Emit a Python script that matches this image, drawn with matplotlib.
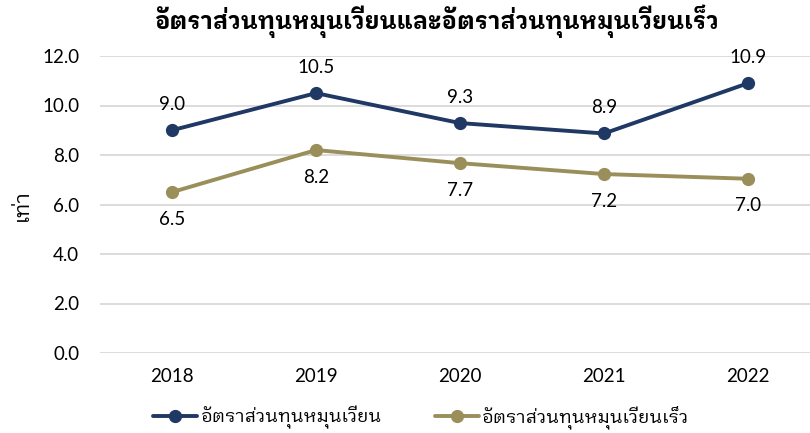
import matplotlib
matplotlib.use('Agg')
import matplotlib.pyplot as plt

years = ['2018', '2019', '2020', '2021', '2022']
working_capital_turnover = [9.0, 10.5, 9.29, 8.87, 10.9]
quick_capital_turnover = [6.5, 8.2, 7.67, 7.23, 7.04]
series_names = ['อัตราส่วนทุนหมุนเวียน', 'อัตราส่วนทุนหมุนเวียนเร็ว']
title = 'อัตราส่วนทุนหมุนเวียนและอัตราส่วนทุนหมุนเวียนเร็ว'
ylabel = 'เท่า'
yticks = [0, 2, 4, 6, 8, 10, 12]

THAI = ['IBM Plex Sans Thai Looped', 'Noto Sans Thai Looped', 'DejaVu Sans']
plt.rcParams['font.family'] = ['Lato', 'IBM Plex Sans Thai Looped', 'DejaVu Sans']

navy = '#1F3864'
gold = '#9A8F5A'

W, H = 810, 433
fig = plt.figure(figsize=(W/100, H/100), dpi=100)
ax = fig.add_axes([100/W, (H-353)/H, 720/W, (353-56)/H])

x = list(range(len(years)))
ax.plot(x, working_capital_turnover, color=navy, lw=2.8, marker='o', ms=8.5,
        label=series_names[0], solid_capstyle='round')
ax.plot(x, quick_capital_turnover, color=gold, lw=2.8, marker='o', ms=8.5,
        label=series_names[1], solid_capstyle='round')

for xi, v in zip(x, working_capital_turnover):
    ax.annotate(f'{v:.1f}', (xi, v), xytext=(0, 18.5), textcoords='offset points',
                ha='center', va='center', fontsize=13.5, color='#000000')
for xi, v in zip(x, quick_capital_turnover):
    ax.annotate(f'{v:.1f}', (xi, v), xytext=(0, -19.5), textcoords='offset points',
                ha='center', va='center', fontsize=13.5, color='#000000')

ax.set_xlim(-0.5, 4.5)
ax.set_ylim(0, 12)
ax.set_yticks(yticks)
ax.set_yticklabels([f'{t:.1f}' for t in yticks], fontsize=13.5)
ax.set_xticks(x)
ax.set_xticklabels(years, fontsize=13.5)
ax.tick_params(axis='both', length=0)
ax.tick_params(axis='y', pad=15)
ax.tick_params(axis='x', pad=11)
for s in ax.spines.values():
    s.set_visible(False)
ax.grid(axis='y', color='#D9D9D9', lw=1.3)
ax.set_axisbelow(True)

fig.text(436/W, 1 - 21/H, title, ha='center', va='center', fontsize=17,
         fontweight='bold', family=THAI)
fig.text(22/W, 1 - 205/H, ylabel, ha='center', va='center', rotation=90,
         fontsize=15, family=THAI)

fig.legend(loc='center', bbox_to_anchor=(421/W, 1 - 417/H), ncol=2, frameon=False,
           prop={'family': THAI, 'size': 13.2},
           handlelength=2.4, handletextpad=0.15, columnspacing=2.9)

fig.savefig('out.png', dpi=100)
